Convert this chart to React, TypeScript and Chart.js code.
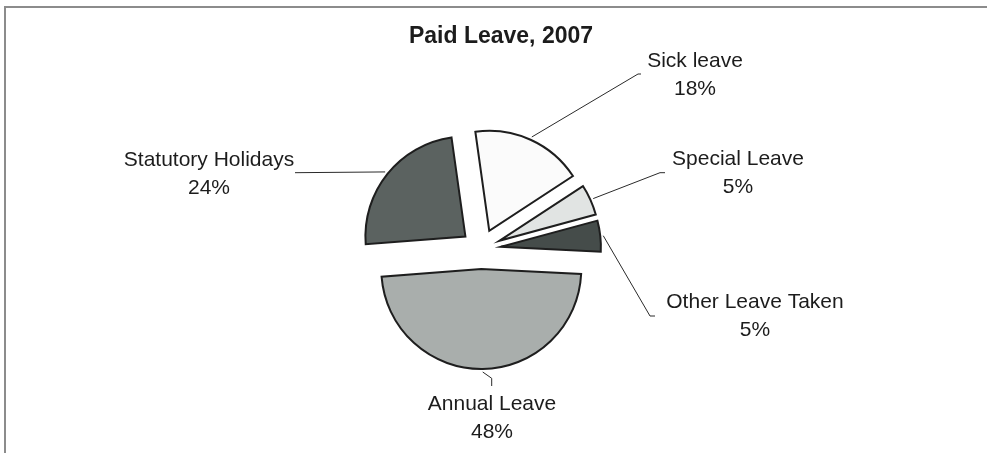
import React, { useEffect, useRef } from "react";
import { Chart, registerables } from "chart.js";

Chart.register(...registerables);

// ---- data ----
const chartTitle = "Paid Leave, 2007";
const categories = ["Sick leave", "Special Leave", "Other Leave Taken", "Annual Leave", "Statutory Holidays"];
const shares = [18, 5, 5, 48, 24];
const percentLabels = ["18%", "5%", "5%", "48%", "24%"];

// ---- styles / layout (not data) ----
const sliceColors = ["#fbfbfb", "#e1e4e3", "#454c4a", "#a9aeac", "#5b6260"];
const FONT = '"Liberation Sans", Arial, sans-serif';
const TEXT_COLOR = "#1c1c1c";
const LINE_COLOR = "#2a2a2a";

// label placement relative to pie centre: elbow, end of leader, text centre x, first baseline
const labelLayout = [
  { elbow: [157, -175], end: [160, -175], tx: 214, ty: -182.3 },
  { elbow: [179, -76.3], end: [184, -76.3], tx: 257, ty: -84 },
  { elbow: [169, 67], end: [174, 67], tx: 274, ty: 59.3 },
  { elbow: [10.7, 129.3], end: [10.7, 137], tx: 11, ty: 161 },
  { elbow: [-186, -76.3], end: [-186, -76.3], tx: -272, ty: -83 },
];
const EXPLODE = 20;
const LINE_GAP = 28;

const explodePlugin = {
  id: "explodeSlices",
  beforeDatasetsDraw(chart: any) {
    const meta = chart.getDatasetMeta(0);
    const ctx = chart.ctx;
    meta.data.forEach((arc: any) => {
      const mid = (arc.startAngle + arc.endAngle) / 2;
      ctx.save();
      ctx.translate(Math.cos(mid) * EXPLODE, Math.sin(mid) * EXPLODE);
      arc.draw(ctx, chart.chartArea);
      ctx.restore();
    });
    return false;
  },
};

const labelPlugin = {
  id: "pieLabels",
  afterDraw(chart: any) {
    const ctx = chart.ctx;
    const meta = chart.getDatasetMeta(0);
    const first = meta.data[0];
    const cx = first.x;
    const cy = first.y;

    // title
    ctx.save();
    ctx.fillStyle = TEXT_COLOR;
    ctx.font = `bold 23px ${FONT}`;
    ctx.textAlign = "center";
    ctx.textBaseline = "alphabetic";
    ctx.fillText(chartTitle, cx + 20, 43);
    ctx.restore();

    meta.data.forEach((arc: any, i: number) => {
      const lay = labelLayout[i];
      const mid = (arc.startAngle + arc.endAngle) / 2;
      const r = arc.outerRadius + 3;
      const sx = cx + Math.cos(mid) * (r + EXPLODE);
      const sy = cy + Math.sin(mid) * (r + EXPLODE);
      ctx.save();
      ctx.strokeStyle = LINE_COLOR;
      ctx.lineWidth = 1;
      ctx.beginPath();
      ctx.moveTo(sx, sy);
      ctx.lineTo(cx + lay.elbow[0], cy + lay.elbow[1]);
      ctx.lineTo(cx + lay.end[0], cy + lay.end[1]);
      ctx.stroke();
      ctx.fillStyle = TEXT_COLOR;
      ctx.font = `21px ${FONT}`;
      ctx.textAlign = "center";
      ctx.textBaseline = "alphabetic";
      ctx.fillText(categories[i], cx + lay.tx, cy + lay.ty);
      ctx.fillText(percentLabels[i], cx + lay.tx, cy + lay.ty + LINE_GAP);
      ctx.restore();
    });
  },
};

export default function App() {
  const canvasRef = useRef<HTMLCanvasElement | null>(null);

  useEffect(() => {
    if (!canvasRef.current) return;
    const chart = new Chart(canvasRef.current, {
      type: "pie",
      data: {
        labels: categories,
        datasets: [
          {
            data: shares,
            backgroundColor: sliceColors,
            borderColor: "#1e1e1e",
            borderWidth: 2,
            borderJoinStyle: "miter",
            radius: 100,
          } as any,
        ],
      },
      options: {
        responsive: false,
        animation: false,
        events: [],
        rotation: -8,
        layout: { padding: { left: 0, right: 25, top: 45, bottom: 0 } },
        plugins: {
          legend: { display: false },
          tooltip: { enabled: false },
          title: { display: false },
        },
      } as any,
      plugins: [explodePlugin, labelPlugin],
    });
    return () => chart.destroy();
  }, []);

  return (
    <div style={{ position: "fixed", left: 0, top: 0, width: 987, height: 453, background: "#fff", overflow: "hidden" }}>
      <canvas ref={canvasRef} width={987} height={453} style={{ position: "absolute", left: 0, top: 0, width: 987, height: 453 }} />
      <div
        style={{
          position: "absolute",
          left: 4,
          top: 6,
          width: 1000,
          height: 500,
          borderLeft: "2px solid #8c8c8c",
          borderTop: "2px solid #8c8c8c",
          pointerEvents: "none",
        }}
      />
    </div>
  );
}
